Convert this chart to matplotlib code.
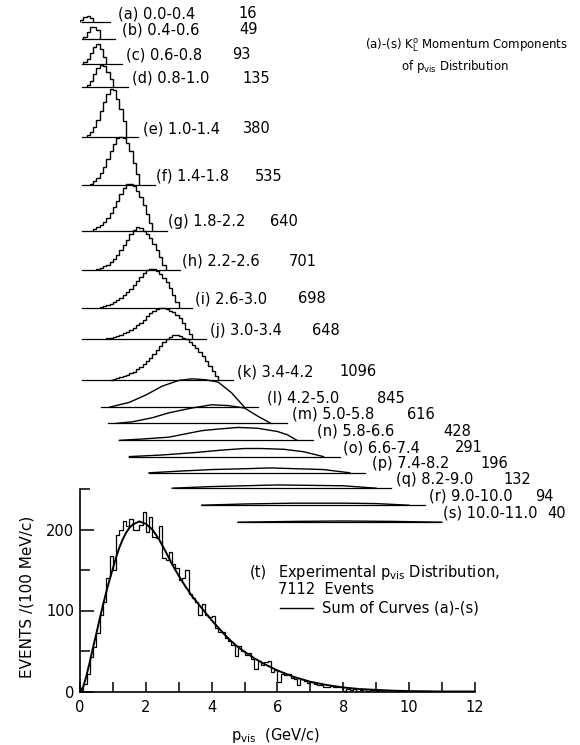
import matplotlib.pyplot as plt
import numpy as np

plt.rcParams['font.family'] = 'DejaVu Sans'
plt.rcParams['mathtext.fontset'] = 'dejavusans'

# (t) experimental p_vis histogram, 100 MeV/c bins from 0
hist_counts = [2, 9, 22, 42, 55, 72, 95, 110, 140, 167,
               150, 193, 200, 211, 204, 213, 200, 199, 206, 222,
               197, 216, 191, 190, 204, 165, 162, 172, 158, 152,
               138, 140, 150, 120, 116, 110, 95, 108, 95, 92,
               93, 78, 74, 74, 66, 62, 58, 44, 56, 50,
               45, 47, 40, 28, 38, 33, 36, 38, 24, 27,
               12, 22, 20, 22, 17, 15, 8, 16, 13, 10,
               12, 9, 8, 8, 6, 5, 7, 5, 6, 5,
               1, 3, 2, 3, 1, 2, 3, 1, 2, 2, 1, 0]

# sum of curves (a)-(s)
sum_x = [0, 0.1, 0.2, 0.3, 0.4, 0.5, 0.6, 0.7, 0.8, 0.9, 1.0, 1.1, 1.2, 1.3,
         1.4, 1.5, 1.6, 1.8, 2.0, 2.2, 2.4, 2.6, 2.8, 3.0, 3.2, 3.4, 3.6, 3.8,
         4.0, 4.2, 4.4, 4.6, 4.8, 5.0, 5.3, 5.6, 6.0, 6.5, 7.0, 7.5, 8.0, 8.5,
         9.0, 9.5, 10, 11, 12]
sum_y = [0, 6, 20, 37, 55, 72, 90, 107, 123, 138, 152, 166, 178, 188,
         196, 202, 206, 210, 207, 200, 188, 173, 157, 143, 130, 118, 108, 98,
         88, 79, 70, 62, 55, 49, 41, 34, 26, 18, 12, 8, 5, 3,
         2, 1, 0.5, 0, 0]

tags = list('abcdefghijklmnopqrs')
k_ranges = ['0.0-0.4', '0.4-0.6', '0.6-0.8', '0.8-1.0', '1.0-1.4', '1.4-1.8',
            '1.8-2.2', '2.2-2.6', '2.6-3.0', '3.0-3.4', '3.4-4.2', '4.2-5.0',
            '5.0-5.8', '5.8-6.6', '6.6-7.4', '7.4-8.2', '8.2-9.0', '9.0-10.0',
            '10.0-11.0']
n_events = [16, 49, 93, 135, 380, 535, 640, 701, 698, 648, 1096, 845, 616,
            428, 291, 196, 132, 94, 40]

# components (a)-(k): step histograms in 0.1 GeV/c bins
step_start = [0.0, 0.1, 0.1, 0.2, 0.2, 0.3, 0.4, 0.5, 0.6, 0.8, 0.9]
step_vals = [
    [3, 7, 8, 5],
    [2, 8, 14, 14, 11],
    [2, 6, 13, 21, 25, 18, 8],
    [3, 8, 16, 24, 27, 26, 19, 10],
    [3, 7, 13, 22, 33, 44, 54, 60, 58, 48, 35, 20],
    [2, 5, 9, 15, 23, 32, 42, 51, 58, 60, 58, 52, 42, 28, 14],
    [2, 4, 7, 11, 16, 22, 29, 37, 45, 52, 57, 58, 55, 49, 41, 31, 20, 9],
    [1, 3, 5, 7, 10, 14, 19, 25, 31, 38, 45, 50, 53, 52, 49, 45, 40, 33,
     25, 16, 7],
    [1, 2, 3, 5, 7, 9, 12, 15, 19, 23, 28, 33, 38, 43, 46, 48, 47, 45, 41,
     37, 31, 24, 16, 7],
    [1, 2, 3, 4, 5, 7, 9, 11, 14, 17, 20, 24, 28, 32, 35, 37, 38, 38, 37,
     35, 33, 30, 26, 20, 13, 6],
    [1, 2, 3, 4, 5, 7, 9, 11, 14, 17, 20, 24, 28, 33, 38, 43, 47, 51, 54,
     56, 56, 55, 53, 51, 48, 44, 40, 35, 30, 24, 18, 12, 6],
]

# components (l)-(s): broad, drawn as lines
line_x = [
    [0.9, 1.5, 2.0, 2.5, 3.0, 3.4, 3.8, 4.2, 4.6, 5.0],
    [1.1, 1.6, 2.2, 2.7, 3.4, 4.0, 4.5, 5.0, 5.4, 5.8],
    [1.2, 2.0, 2.7, 3.2, 3.7, 4.2, 4.8, 5.4, 6.0, 6.3, 6.6],
    [1.5, 2.5, 3.5, 4.3, 5.0, 5.5, 6.2, 6.8, 7.4],
    [2.1, 3.0, 4.0, 5.0, 5.8, 6.6, 7.4, 8.2],
    [2.8, 4.0, 5.0, 6.0, 7.0, 8.0, 9.0],
    [3.7, 5.0, 6.5, 8.0, 9.0, 10.0],
    [4.8, 6.5, 8.0, 9.5, 11.0],
]
line_y = [
    [0, 6, 15, 26, 33, 35, 34, 31, 18, 0],
    [0, 2, 7, 13, 19, 23, 22, 19, 9, 0],
    [0, 2, 4, 8, 12, 14, 16, 15, 11, 7, 0],
    [0, 2, 5, 8, 10, 10, 9, 6, 0],
    [0, 2, 4, 5, 6, 5, 4, 0],
    [0, 2, 3, 4, 3.5, 3, 0],
    [0, 1.5, 2.5, 2.5, 2, 0],
    [0, 1, 1.5, 1, 0],
]

# layout: vertical offset of each component, baseline extent, label places
offsets = [826, 806, 775, 746, 684, 625, 569, 520, 474, 435, 384, 351, 331,
           310, 290, 270, 251, 230, 209]
base_lo = [0.05] * 11 + [0.64, 0.85, 1.2, 1.5, 2.1, 2.85, 3.7, 4.8]
base_hi = [0.91, 1.06, 1.28, 1.46, 1.76, 2.28, 2.64, 3.04, 3.4, 3.83, 4.65,
           5.41, 6.29, 7.08, 7.9, 8.66, 9.45, 10.49, 10.94]
lab_x = [1.16, 1.28, 1.4, 1.58, 1.91, 2.31, 2.67, 3.1, 3.5, 3.95, 4.77, 5.68,
         6.44, 7.2, 7.99, 8.88, 9.6, 10.61, 11.03]
num_x = [4.83, 4.83, 4.62, 4.95, 4.95, 5.32, 5.78, 6.35, 6.63, 7.05, 7.9,
         9.03, 9.94, 11.03, 11.4, 12.16, 12.86, 13.83, 14.19]

fs = 10.5
head_fs = 8.5
fig = plt.figure(figsize=(5.8, 7.45), dpi=100)
ax = fig.add_axes([80 / 580, 53.5 / 745, 394.8 / 580, 691.5 / 745])
ax.set_xlim(0, 12)
ax.set_ylim(0, 691.5 / 0.81)

# main histogram and fitted sum
edges = np.round(np.arange(len(hist_counts) + 1) * 0.1, 2)
ax.stairs(hist_counts, edges, color='k', lw=0.9)
ax.plot(sum_x, sum_y, color='k', lw=1.4)

# stacked components
for i in range(len(tags)):
    off = offsets[i]
    ax.plot([base_lo[i], base_hi[i]], [off, off], color='k', lw=0.9)
    if i < len(step_vals):
        v = np.array(step_vals[i])
        e = np.round(step_start[i] + 0.1 * np.arange(len(v) + 1), 2)
        ax.stairs(v + off, e, baseline=off, color='k', lw=1.0)
    else:
        j = i - len(step_vals)
        ax.plot(line_x[j], np.array(line_y[j]) + off, color='k', lw=1.0)
    ax.text(lab_x[i], off + 11, '(%s) %s' % (tags[i], k_ranges[i]),
            fontsize=fs, va='center', ha='left')
    ax.text(num_x[i], off + 11, str(n_events[i]), fontsize=fs,
            va='center', ha='left')

ax.text(8.66, 798, r'(a)-(s) K$^{\mathrm{o}}_{\mathrm{L}}$ Momentum Components',
        fontsize=head_fs, va='center')
ax.text(9.75, 771, r'of p$_{\mathrm{vis}}$ Distribution', fontsize=head_fs,
        va='center')

ax.text(5.17, 147.5, '(t)', fontsize=fs, va='center')
ax.text(6.02, 147.5, r'Experimental p$_{\mathrm{vis}}$ Distribution,',
        fontsize=fs, va='center')
ax.text(6.02, 126.5, '7112  Events', fontsize=fs, va='center')
ax.plot([6.08, 7.08], [103, 103], color='k', lw=1.0)
ax.text(7.36, 103, 'Sum of Curves (a)-(s)', fontsize=fs, va='center')

# axes styling
for s in ['top', 'right']:
    ax.spines[s].set_visible(False)
ax.spines['left'].set_bounds(0, 250)
ax.spines['bottom'].set_bounds(0, 12)
ax.spines['left'].set_linewidth(1.2)
ax.spines['bottom'].set_linewidth(1.2)
ax.set_xticks(np.arange(0, 13, 2))
ax.set_xticks(np.arange(1, 12, 2), minor=True)
ax.set_yticks([0, 100, 200])
ax.set_yticks([50, 150, 250], minor=True)
ax.tick_params(which='both', direction='in', labelsize=fs, width=1.1)
ax.tick_params(axis='x', which='both', length=7, pad=6)
ax.tick_params(axis='y', which='major', length=10, pad=4)
ax.tick_params(axis='y', which='minor', length=7)

ax.set_ylabel('EVENTS /(100 MeV/c)', fontsize=fs + 0.5)
ax.yaxis.set_label_coords(-0.115, 0.137)
ax.set_xlabel(r'p$_{\mathrm{vis}}$  (GeV/c)', fontsize=fs)
ax.xaxis.set_label_coords(0.495, -0.05)

fig.savefig('out.png', dpi=100)
